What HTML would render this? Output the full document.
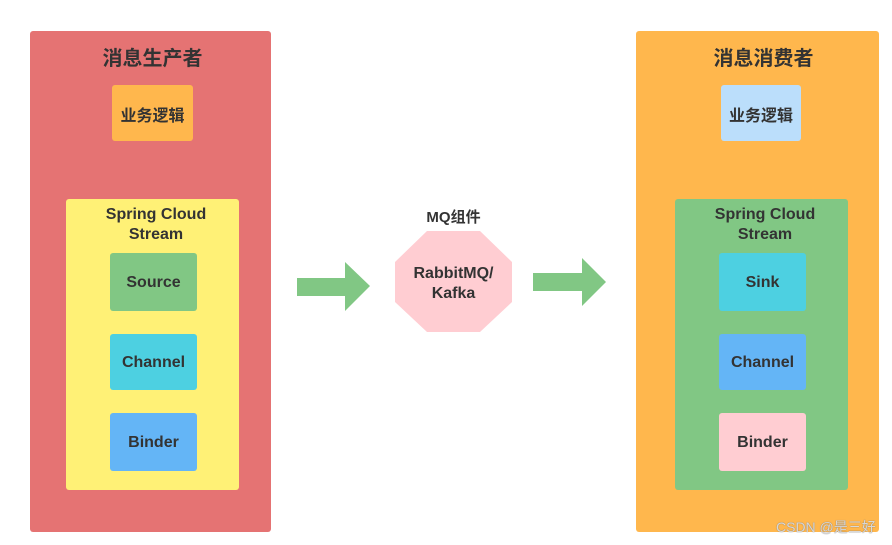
<!DOCTYPE html>
<html><head><meta charset="utf-8"><style>
body{margin:0;width:892px;height:545px;background:#fff;position:relative;overflow:hidden;font-family:"Liberation Sans","Noto Sans CJK SC",sans-serif;color:#333;font-weight:bold}
.b{position:absolute;border-radius:3px;box-sizing:border-box}
.c{display:flex;align-items:center;justify-content:center;text-align:center;padding-top:2px}
.t{position:absolute;text-align:center;left:0;right:0}
</style></head><body>
<div class="b" style="left:30px;top:31px;width:241px;height:501px;background:#E57373"></div>
<div class="t" style="left:30px;width:245px;top:42px;font-size:20px">消息生产者</div>
<div class="b c" style="left:112px;top:85px;width:81px;height:56px;background:#FFB74D;font-size:16px">业务逻辑</div>
<div class="b" style="left:66px;top:199px;width:173px;height:291px;background:#FFF176"></div>
<div class="t" style="left:66px;width:180px;top:205px;font-size:16px;line-height:20px">Spring Cloud<br>Stream</div>
<div class="b c" style="left:110px;top:253px;width:87px;height:58px;background:#81C784;font-size:16px">Source</div>
<div class="b c" style="left:110px;top:334px;width:87px;height:56px;background:#4DD0E1;font-size:16px">Channel</div>
<div class="b c" style="left:110px;top:413px;width:87px;height:58px;background:#64B5F6;font-size:16px">Binder</div>

<div class="b" style="left:636px;top:31px;width:243px;height:501px;background:#FFB74D"></div>
<div class="t" style="left:636px;width:255px;top:42px;font-size:20px">消息消费者</div>
<div class="b c" style="left:721px;top:85px;width:80px;height:56px;background:#BBDEFB;font-size:16px">业务逻辑</div>
<div class="b" style="left:675px;top:199px;width:173px;height:291px;background:#81C784"></div>
<div class="t" style="left:675px;width:180px;top:205px;font-size:16px;line-height:20px">Spring Cloud<br>Stream</div>
<div class="b c" style="left:719px;top:253px;width:87px;height:58px;background:#4DD0E1;font-size:16px">Sink</div>
<div class="b c" style="left:719px;top:334px;width:87px;height:56px;background:#64B5F6;font-size:16px">Channel</div>
<div class="b c" style="left:719px;top:413px;width:87px;height:58px;background:#FFCDD2;font-size:16px">Binder</div>

<svg style="position:absolute;left:0;top:0" width="892" height="545">
<polygon points="297,278 345,278 345,262 370,286 345,311 345,296 297,296" fill="#81C784"/>
<polygon points="533,273 582,273 582,258 606,282 582,306 582,291 533,291" fill="#81C784"/>
<polygon points="427,231 480,231 512,262 512,302 480,332 427,332 395,302 395,262" fill="#FFCDD2"/>
</svg>
<div class="t" style="left:395px;width:117px;top:206px;font-size:15px">MQ组件</div>
<div class="t" style="left:395px;width:117px;top:264px;font-size:16px;line-height:20px">RabbitMQ/<br>Kafka</div>
<div style="position:absolute;left:776px;top:517px;font-size:14px;font-weight:normal;color:#d8d8d8;text-shadow:0 0 1px #666">CSDN @是三好</div>
</body></html>
